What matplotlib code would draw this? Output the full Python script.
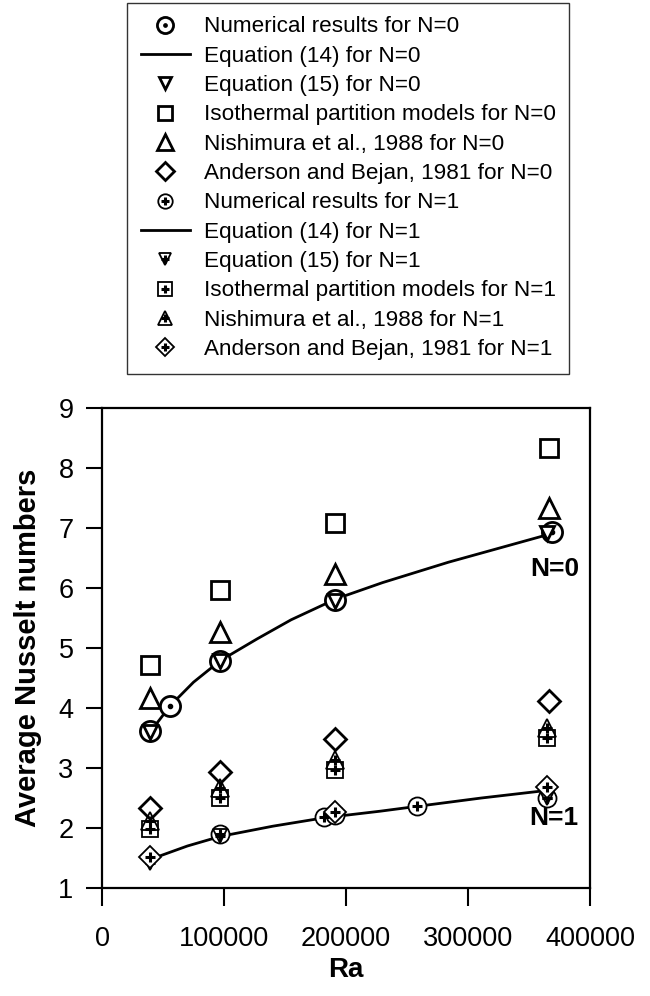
import matplotlib
matplotlib.use("Agg")
import matplotlib.pyplot as plt

plt.rcParams['font.family'] = ['Liberation Sans', 'DejaVu Sans']

# --- data ---
# N = 0
ra_num0 = [39500, 56000, 97000, 191000, 368500]
nu_num0 = [3.62, 4.04, 4.79, 5.80, 6.93]
ra_eq14_0 = [39500, 56000, 75000, 97000, 127000, 155000, 192000, 230000, 284000, 362000]
nu_eq14_0 = [3.60, 4.04, 4.43, 4.79, 5.15, 5.47, 5.82, 6.09, 6.43, 6.87]
ra_eq15_0 = [39500, 97000, 191000, 365000]
nu_eq15_0 = [3.60, 4.78, 5.79, 6.91]
ra_iso0 = [39500, 97000, 191000, 366000]
nu_iso0 = [4.72, 5.96, 7.08, 8.34]
ra_nish0 = [39500, 97000, 191000, 366000]
nu_nish0 = [4.17, 5.26, 6.24, 7.34]
ra_and0 = [39500, 97000, 191000, 366000]
nu_and0 = [2.34, 2.94, 3.49, 4.11]

# N = 1
ra_num1 = [97000, 182000, 191000, 258000, 365000]
nu_num1 = [1.90, 2.19, 2.22, 2.36, 2.50]
ra_eq14_1 = [40000, 70000, 97000, 140000, 182000, 228000, 258000, 311000, 362000]
nu_eq14_1 = [1.48, 1.70, 1.86, 2.03, 2.17, 2.28, 2.36, 2.50, 2.62]
ra_eq15_1 = [39500, 97000, 191000, 365000]
nu_eq15_1 = [1.42, 1.86, 2.22, 2.50]
ra_iso1 = [39500, 97000, 191000, 365000]
nu_iso1 = [1.98, 2.50, 2.97, 3.50]
ra_nish1 = [39500, 97000, 191000, 365000]
nu_nish1 = [2.11, 2.67, 3.14, 3.66]
ra_and1 = [39500, 191000, 365000]
nu_and1 = [1.52, 2.27, 2.69]

fig = plt.figure(figsize=(6.5, 9.96), dpi=100)
ax = fig.add_axes([102 / 650, 1 - 888 / 996, 488 / 650, 480 / 996])

thick = dict(ls='none', mec='black', mfc='white', mew=2.0)
thin = dict(ls='none', mec='black', mfc='white', mew=1.3)
plus = dict(ls='none', marker='+', color='black', ms=6.5, mew=2.2)

# N=0 series
h_iso0, = ax.plot(ra_iso0, nu_iso0, marker='s', ms=13, **thick)
h_nish0, = ax.plot(ra_nish0, nu_nish0, marker='^', ms=14, **thick)
h_and0, = ax.plot(ra_and0, nu_and0, marker='D', ms=11.5, **thick)
h_eq14_0, = ax.plot(ra_eq14_0, nu_eq14_0, color='black', lw=2)
h_num0, = ax.plot(ra_num0, nu_num0, marker='o', ms=14.5, **thick)
h_dot0, = ax.plot(ra_num0, nu_num0, ls='none', marker='o', ms=3, color='black')
h_eq15_0, = ax.plot(ra_eq15_0, nu_eq15_0, marker='v', ms=10, **thick)

# N=1 series
h_iso1, = ax.plot(ra_iso1, nu_iso1, marker='s', ms=12, **thin)
h_iso1p, = ax.plot(ra_iso1, nu_iso1, **plus)
h_nish1, = ax.plot(ra_nish1, nu_nish1, marker='^', ms=13, mec='black', mfc='none', mew=1.3, ls='none')
h_nish1p, = ax.plot(ra_nish1, nu_nish1, **plus)
h_eq14_1, = ax.plot(ra_eq14_1, nu_eq14_1, color='black', lw=2)
h_num1, = ax.plot(ra_num1, nu_num1, marker='o', ms=13, **thin)
h_num1p, = ax.plot(ra_num1, nu_num1, **plus)
h_eq15_1, = ax.plot(ra_eq15_1, nu_eq15_1, marker='v', ms=10, mec='black', mfc='none', mew=1.3, ls='none')
h_eq15_1p, = ax.plot(ra_eq15_1, nu_eq15_1, **plus)
h_and1, = ax.plot(ra_and1, nu_and1, marker='D', ms=11, **thin)
h_and1p, = ax.plot(ra_and1, nu_and1, **plus)

ax.text(371000, 6.31, 'N=0', fontsize=19, fontweight='bold', ha='center', va='center')
ax.text(370500, 2.17, 'N=1', fontsize=19, fontweight='bold', ha='center', va='center')

ax.set_xlim(0, 400000)
ax.set_ylim(1, 9)
ax.set_xticks([0, 100000, 200000, 300000, 400000])
ax.set_xticklabels(['0', '100000', '200000', '300000', '400000'])
ax.set_yticks(range(1, 10))
ax.tick_params(direction='out', width=1.5, labelsize=19.5)
ax.tick_params(axis='x', length=13, pad=14)
ax.tick_params(axis='y', length=11.5, pad=9)
for s in ax.spines.values():
    s.set_linewidth(1.6)
ax.set_xlabel('Ra', fontsize=20, fontweight='bold', labelpad=4)
ax.set_ylabel('Average Nusselt numbers', fontsize=21, fontweight='bold', labelpad=12)

# legend handles: N=1 markers carry a small plus
handles = [
    (h_num0, h_dot0), h_eq14_0, h_eq15_0, h_iso0, h_nish0, h_and0,
    (h_num1, h_num1p), h_eq14_1, (h_eq15_1, h_eq15_1p), (h_iso1, h_iso1p),
    (h_nish1, h_nish1p), (h_and1, h_and1p),
]
labels = [
    'Numerical results for N=0', 'Equation (14) for N=0', 'Equation (15) for N=0',
    'Isothermal partition models for N=0', 'Nishimura et al., 1988 for N=0',
    'Anderson and Bejan, 1981 for N=0',
    'Numerical results for N=1', 'Equation (14) for N=1', 'Equation (15) for N=1',
    'Isothermal partition models for N=1', 'Nishimura et al., 1988 for N=1',
    'Anderson and Bejan, 1981 for N=1',
]
leg = fig.legend(handles, labels, loc='upper left', bbox_to_anchor=(127 / 650, 1 - 3 / 996),
                 borderaxespad=0, fontsize=16.2, markerscale=0.8, frameon=True, fancybox=False,
                 edgecolor='black', labelspacing=0.37, handlelength=2.2, handletextpad=0.6,
                 borderpad=0.6)
leg.get_frame().set_linewidth(1.0)

fig.savefig('out.png', dpi=100)
